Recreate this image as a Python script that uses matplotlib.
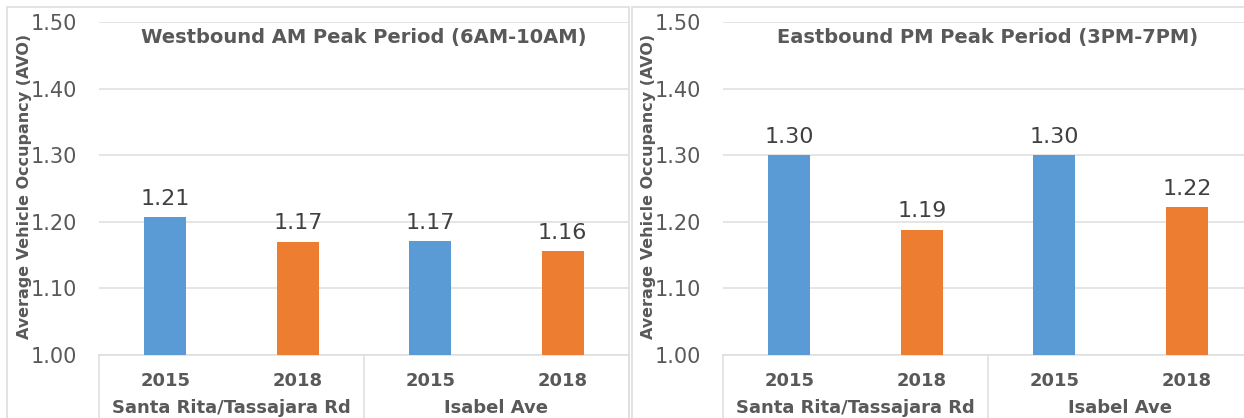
import matplotlib
matplotlib.use("Agg")
import matplotlib.pyplot as plt
from matplotlib.patches import Rectangle
import matplotlib.transforms as mtransforms

years = ["2015", "2018", "2015", "2018"]
groups = ["Santa Rita/Tassajara Rd", "Isabel Ave"]
titles = ["Westbound AM Peak Period (6AM-10AM)", "Eastbound PM Peak Period (3PM-7PM)"]
am_values = [1.207, 1.17, 1.171, 1.156]
pm_values = [1.30, 1.188, 1.30, 1.222]
am_labels = ["1.21", "1.17", "1.17", "1.16"]
pm_labels = ["1.30", "1.19", "1.30", "1.22"]
yticks = [1.00, 1.10, 1.20, 1.30, 1.40, 1.50]
ylabel = "Average Vehicle Occupancy (AVO)"

BLUE = "#5B9BD5"
ORANGE = "#ED7D31"
GRID = "#DEDEDE"
TXT = "#595959"
LBL = "#404040"

plt.rcParams['font.family'] = ['DejaVu Sans']

W, H = 1244, 418
fig = plt.figure(figsize=(W / 100, H / 100), dpi=100)

# panel borders
fig.patches.append(Rectangle((7 / W, -0.1), (629 - 7) / W, 1 - 7 / H + 0.1,
                             transform=fig.transFigure, fill=False,
                             edgecolor=GRID, lw=1.2))
fig.patches.append(Rectangle((632 / W, -0.1), 1.0, 1 - 7 / H + 0.1,
                             transform=fig.transFigure, fill=False,
                             edgecolor=GRID, lw=1.2))

ax_bottom = 1 - 355 / H
ax_height = (355 - 22) / H
ax_width = 530 / W

panels = [(99, am_values, am_labels, titles[0], 25),
          (723, pm_values, pm_labels, titles[1], 649)]

for left_px, vals, labs, title, ylab_x in panels:
    ax = fig.add_axes([left_px / W, ax_bottom, ax_width, ax_height])
    x = list(range(len(years)))
    colors = [BLUE, ORANGE, BLUE, ORANGE]
    ax.bar(x, [v - 1.0 for v in vals], bottom=1.0, width=0.317,
           color=colors, zorder=3)
    for xi, v, lab in zip(x, vals, labs):
        ax.annotate(lab, (xi, v), xytext=(0, 6), textcoords="offset points",
                    ha="center", va="bottom", fontsize=16, color=LBL)
    ax.set_xlim(-0.5, 3.5)
    ax.set_ylim(1.0, 1.5)
    ax.set_yticks(yticks)
    ax.set_yticklabels([f"{t:.2f}" for t in yticks], fontsize=15, color=TXT)
    ax.yaxis.grid(True, color=GRID, lw=1.1, zorder=0)
    ax.set_axisbelow(True)
    for s in ["top", "right", "left"]:
        ax.spines[s].set_visible(False)
    ax.spines["bottom"].set_color(GRID)
    ax.spines["bottom"].set_linewidth(1.1)
    ax.tick_params(axis="both", length=0)
    ax.tick_params(axis="y", pad=16)
    ax.set_xticks(x)
    ax.set_xticklabels(years, fontsize=13, fontweight="bold", color=TXT)
    ax.tick_params(axis="x", pad=12)
    trans = mtransforms.blended_transform_factory(ax.transData, ax.transAxes)
    for sx in [-0.5, 1.5, 3.5]:
        ax.plot([sx, sx], [0, -0.3], transform=trans, color=GRID, lw=1.1,
                clip_on=False)
    for gi, g in enumerate(groups):
        ax.text(0.5 + 2 * gi, -0.16, g, transform=trans, ha="center",
                va="center", fontsize=13, fontweight="bold", color=TXT)
    ax.text(0.5, 0.952, title, transform=ax.transAxes, ha="center",
            va="center", fontsize=14, fontweight="bold", color=TXT)
    fig.text(ylab_x / W, 1 - 186 / H, ylabel, rotation=90, ha="center",
             va="center", fontsize=11.5, fontweight="bold", color=TXT)

fig.savefig("out.png", dpi=100)
